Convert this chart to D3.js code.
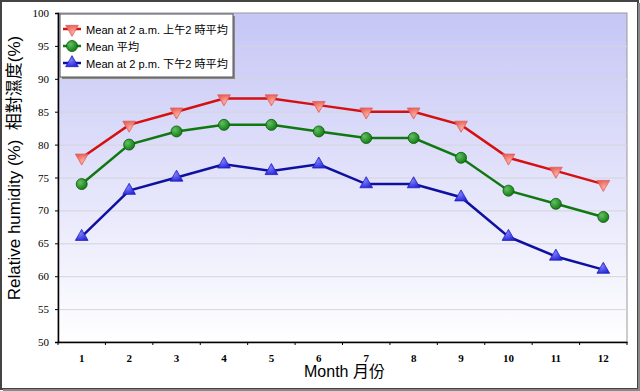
<!DOCTYPE html>
<html><head><meta charset="utf-8">
<script src="https://cdn.jsdelivr.net/npm/d3@7"></script>
<style>body{margin:0;background:#fff}svg{display:block}</style>
</head><body>
<svg id="c" width="640" height="391"></svg>
<script>
const months = ["1","2","3","4","5","6","7","8","9","10","11","12"];
const am2 = [78, 83, 85, 87, 87, 86, 85, 85, 83, 78, 76, 74];
const meanRH = [74, 80, 82, 83, 83, 82, 81, 81, 78, 73, 71, 69];
const pm2 = [66, 73, 75, 77, 76, 77, 74, 74, 72, 66, 63, 61];
const yTicks = [50, 55, 60, 65, 70, 75, 80, 85, 90, 95, 100];
const seriesNames = ["Mean at 2 a.m. 上午2 時平均", "Mean 平均", "Mean at 2 p.m. 下午2 時平均"];

const svg = d3.select("#c");
const W = 640, H = 391;
const m = {l: 58, r: 13, t: 13, b: 49};
const pw = W - m.l - m.r, ph = H - m.t - m.b;
const FONT = "Arial, 'Liberation Sans', 'Noto Sans CJK TC', sans-serif";

const defs = svg.append("defs");
const bg = defs.append("linearGradient").attr("id","bg").attr("x1",0).attr("y1",0).attr("x2",0).attr("y2",1);
bg.append("stop").attr("offset","0%").attr("stop-color","#c6c6f6");
bg.append("stop").attr("offset","100%").attr("stop-color","#ffffff");
function rg(id, light, dark){
  const g = defs.append("radialGradient").attr("id",id).attr("cx","35%").attr("cy","35%").attr("r","70%");
  g.append("stop").attr("offset","0%").attr("stop-color",light);
  g.append("stop").attr("offset","100%").attr("stop-color",dark);
}
rg("gr","#ffb0a0","#e8605a");
rg("gg","#60c060","#127a12");
rg("gb","#8080ff","#2828d8");

// outer frame
svg.append("rect").attr("x",1).attr("y",1).attr("width",W-3).attr("height",H-3)
  .attr("fill","#fff").attr("stroke","#444").attr("stroke-width",2);
svg.append("line").attr("x1",3).attr("x2",W).attr("y1",H-1).attr("y2",H-1).attr("stroke","#888").attr("stroke-width",2);
svg.append("line").attr("x1",W-1).attr("x2",W-1).attr("y1",3).attr("y2",H).attr("stroke","#888").attr("stroke-width",2);

const g = svg.append("g").attr("transform",`translate(${m.l},${m.t})`);
const x = d3.scaleBand().domain(months).range([0,pw]);
const y = d3.scaleLinear().domain([50,100]).range([ph,0]);

g.append("rect").attr("width",pw).attr("height",ph).attr("fill","url(#bg)")
  .attr("stroke","#999").attr("stroke-width",1);

// grid
g.selectAll(".grid").data(yTicks.slice(1,-1)).join("line")
  .attr("x1",0).attr("x2",pw).attr("y1",d=>y(d)+0.5).attr("y2",d=>y(d)+0.5)
  .attr("stroke","#d4d4dc").attr("stroke-width",1);

// y axis
const ya = g.append("g").call(d3.axisLeft(y).tickValues(yTicks).tickSize(3).tickPadding(6));
ya.select(".domain").attr("stroke","#000").attr("stroke-width",1.5);
ya.selectAll("text").attr("font-family","'Liberation Serif', serif").attr("font-size",11).attr("fill","#000");

// x axis
const xa = g.append("g").attr("transform",`translate(0,${ph})`)
  .call(d3.axisBottom(x).tickSize(0).tickPadding(12));
xa.select(".domain").attr("stroke","#000").attr("stroke-width",1.5);
xa.selectAll("text").attr("font-family","'Liberation Serif', serif").attr("font-size",11).attr("fill","#000").attr("font-weight","bold");
xa.selectAll(".bt").data(d3.range(13)).join("line").attr("class","bt")
  .attr("x1",d=>d*x.step()).attr("x2",d=>d*x.step()).attr("y1",0).attr("y2",3).attr("stroke","#000");

// titles
svg.append("text").attr("x",m.l+pw/2+2).attr("y",377).attr("text-anchor","middle")
  .attr("font-family",FONT).attr("font-size",16).attr("fill","#000")
  .text("Month 月份");
svg.append("text").attr("transform","translate(20,168) rotate(-90)").attr("text-anchor","middle")
  .attr("font-family",FONT).attr("font-size",17).attr("fill","#000")
  .attr("xml:space","preserve").style("white-space","pre")
  .text("Relative humidity (%)  相對濕度(%)");

const series = [
  {name: seriesNames[0], data: am2, line: "#d41010", fill: "url(#gr)", stroke:"#e06060", shape: "down"},
  {name: seriesNames[1], data: meanRH, line: "#107810", fill: "url(#gg)", stroke:"#0a5a0a", shape: "circle"},
  {name: seriesNames[2], data: pm2, line: "#1010a0", fill: "url(#gb)", stroke:"#2020c0", shape: "up"}
];
const triUp = d3.symbol().type(d3.symbolTriangle).size(70);
function marker(sel, s){
  if (s.shape === "circle") {
    sel.append("circle").attr("r",5.5).attr("fill",s.fill).attr("stroke",s.stroke).attr("stroke-width",0.8);
  } else {
    sel.append("path").attr("d",triUp()).attr("transform", s.shape==="down" ? "rotate(180)" : null)
      .attr("fill",s.fill).attr("stroke",s.stroke).attr("stroke-width",0.8);
  }
}
const line = d3.line().x((d,i)=>x(months[i])+x.bandwidth()/2).y(d=>y(d));
series.forEach(s=>{
  g.append("path").datum(s.data).attr("d",line).attr("fill","none").attr("stroke",s.line).attr("stroke-width",2.5);
  g.selectAll(null).data(s.data).join("g")
    .attr("transform",(d,i)=>`translate(${x(months[i])+x.bandwidth()/2},${y(d)})`)
    .each(function(){ marker(d3.select(this), s); });
});

// legend
const lg = svg.append("g").attr("transform","translate(60,14)");
lg.append("rect").attr("x",2).attr("y",2).attr("width",173).attr("height",63).attr("fill","#888");
lg.append("rect").attr("width",173).attr("height",63).attr("fill","#fff").attr("stroke","#555").attr("stroke-width",1);
series.forEach((s,i)=>{
  const row = lg.append("g").attr("transform",`translate(0,${15+i*17})`);
  row.append("line").attr("x1",3).attr("x2",21).attr("y1",0).attr("y2",0).attr("stroke",s.line).attr("stroke-width",2.5);
  const mk = row.append("g").attr("transform","translate(12,0)");
  marker(mk, s);
  row.append("text").attr("x",26).attr("y",4.5).attr("font-family",FONT)
    .attr("font-size",11.1).attr("fill","#000").text(s.name);
});
</script>
</body></html>
